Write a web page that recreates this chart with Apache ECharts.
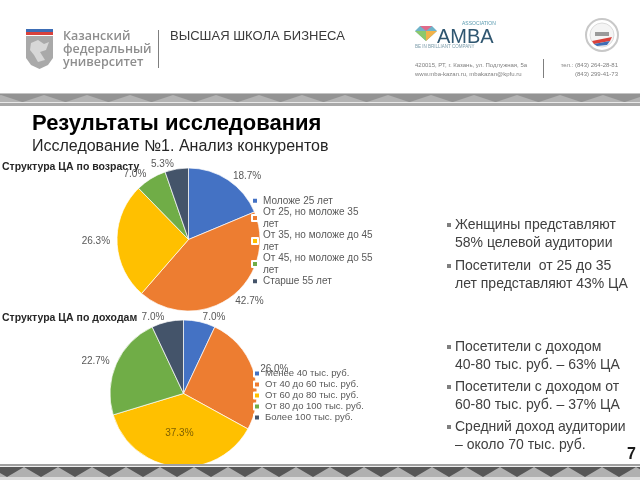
<!DOCTYPE html>
<html><head><meta charset="utf-8">
<script src="https://cdn.jsdelivr.net/npm/echarts@6/dist/echarts.min.js"></script>
<style>html,body{margin:0;padding:0;background:#fff}#c{width:640px;height:480px}</style>
</head><body><div id="c"></div>
<script>
// ---- data ----
const ageCategories = ['Моложе 25 лет', 'От 25, но моложе 35 лет', 'От 35, но моложе до 45 лет', 'От 45, но моложе до 55 лет', 'Старше 55 лет'];
const ageValues = [18.7, 42.7, 26.3, 7.0, 5.3];
const incomeCategories = ['Менее 40 тыс. руб.', 'От 40 до 60 тыс. руб.', 'От 60 до 80 тыс. руб.', 'От 80 до 100 тыс. руб.', 'Более 100 тыс. руб.'];
const incomeValues = [7.0, 26.0, 37.3, 22.7, 7.0];
const incomeInsideLabelIndex = 2;
const sliceColors = ['#4472C4', '#ED7D31', '#FFC000', '#70AD47', '#44546A'];

const slideTitle = 'Результаты исследования';
const slideSubtitle = 'Исследование №1. Анализ конкурентов';
const ageChartTitle = 'Структура ЦА по возрасту';
const incomeChartTitle = 'Структура ЦА по доходам';
const bullets = [
  'Женщины представляют\n58% целевой аудитории',
  'Посетители  от 25 до 35\nлет представляют 43% ЦА',
  'Посетители с доходом\n40-80 тыс. руб. – 63% ЦА',
  'Посетители с доходом от\n60-80 тыс. руб. – 37% ЦА',
  'Средний доход аудитории\n– около 70 тыс. руб.'
];
const pageNumber = '7';

// ---- layout ----
const FF = '"Liberation Sans", Arial, sans-serif';
const bulletTops = [216, 257, 338, 378, 418];

const g = [];
// header: KFU logo
g.push({type:'rect', shape:{x:26,y:29,width:27,height:3}, style:{fill:'#3d6db5'}});
g.push({type:'rect', shape:{x:26,y:32,width:27,height:3}, style:{fill:'#d9413b'}});
g.push({type:'polygon', shape:{points:[[26,36],[53,36],[53,58],[48,65],[39.5,69],[31,65],[26,58]]}, style:{fill:'#a9a9a9'}});
g.push({type:'polygon', shape:{points:[[31,43],[38,40],[44,44],[49,42],[46,50],[40,52],[45,60],[38,62],[34,55],[30,50]]}, style:{fill:'#d7d7d7'}});
const kfuFont = '600 12.5px "Open Sans", sans-serif';
g.push({type:'text', x:63, y:36, style:{text:'Казанский', font:kfuFont, fill:'#8e8e8e', verticalAlign:'middle'}});
g.push({type:'text', x:63, y:49, style:{text:'федеральный', font:kfuFont, fill:'#8e8e8e', verticalAlign:'middle'}});
g.push({type:'text', x:63, y:62, style:{text:'университет', font:kfuFont, fill:'#8e8e8e', verticalAlign:'middle'}});
g.push({type:'rect', shape:{x:158,y:30,width:1,height:38}, style:{fill:'#7f7f7f'}});
g.push({type:'text', x:170, y:36, style:{text:'ВЫСШАЯ ШКОЛА БИЗНЕСА', font:'13px ' + FF, fill:'#3a3a3a', verticalAlign:'middle'}});
// AMBA logo
g.push({type:'polygon', shape:{points:[[415,31],[420,26],[432,26],[437,31],[426,41]]}, style:{fill:'#6fb3c9'}});
g.push({type:'polygon', shape:{points:[[420,26],[426,31],[432,26]]}, style:{fill:'#e06a8a'}});
g.push({type:'polygon', shape:{points:[[415,31],[426,31],[426,41]]}, style:{fill:'#8cc86b'}});
g.push({type:'polygon', shape:{points:[[426,31],[437,31],[426,41]]}, style:{fill:'#f1b24a'}});
g.push({type:'text', x:437, y:37, style:{text:'AMBA', font:'20px ' + FF, fill:'#2f5670', verticalAlign:'middle'}});
g.push({type:'text', x:462, y:24, style:{text:'ASSOCIATION', font:'5px ' + FF, fill:'#5a9bb0', verticalAlign:'middle'}});
g.push({type:'text', x:415, y:47, style:{text:'BE IN BRILLIANT COMPANY', font:'4.5px ' + FF, fill:'#7a9aa8', verticalAlign:'middle'}});
g.push({type:'text', x:415, y:65, style:{text:'420015, РТ, г. Казань, ул. Подлужная, 5а', font:'6px ' + FF, fill:'#7f7f7f', verticalAlign:'middle'}});
g.push({type:'text', x:415, y:74, style:{text:'www.mba-kazan.ru, mbakazan@kpfu.ru', font:'6px ' + FF, fill:'#7f7f7f', verticalAlign:'middle'}});
g.push({type:'rect', shape:{x:543,y:59,width:1,height:19}, style:{fill:'#7f7f7f'}});
g.push({type:'text', x:618, y:65, style:{text:'тел.: (843) 264-28-81', font:'6px ' + FF, fill:'#7f7f7f', align:'right', verticalAlign:'middle'}});
g.push({type:'text', x:618, y:74, style:{text:'(843) 299-41-73', font:'6px ' + FF, fill:'#7f7f7f', align:'right', verticalAlign:'middle'}});
// round logo
g.push({type:'circle', shape:{cx:602,cy:35,r:16}, style:{fill:'#fff', stroke:'#c8c8c8', lineWidth:2}});
g.push({type:'circle', shape:{cx:602,cy:35,r:12}, style:{fill:'#f4f4f4', stroke:'#dcdcdc', lineWidth:1}});
g.push({type:'rect', shape:{x:595,y:32,width:14,height:4}, style:{fill:'#9a9a9a'}});
g.push({type:'polygon', shape:{points:[[592,41],[612,37],[610,41],[594,44]]}, style:{fill:'#d9413b'}});
g.push({type:'polygon', shape:{points:[[594,44],[610,41],[607,45],[597,46]]}, style:{fill:'#3d6db5'}});

// top band
g.push({type:'rect', shape:{x:0,y:93,width:640,height:1}, style:{fill:'#c4c4c4'}});
g.push({type:'rect', shape:{x:0,y:94,width:640,height:8}, style:{fill:'#939393'}});
for (let x = -20; x < 660; x += 43) {
  g.push({type:'polygon', shape:{points:[[x,102],[x+21,95],[x+42,102]]}, style:{fill:'#b3b3b3'}});
}
g.push({type:'rect', shape:{x:0,y:102,width:640,height:1}, style:{fill:'#e8e8e8'}});
g.push({type:'rect', shape:{x:0,y:103,width:640,height:3}, style:{fill:'#a8a8a8'}});

// bottom band (drawn above pies)
g.push({type:'rect', z:100, shape:{x:0,y:464,width:640,height:2}, style:{fill:'#a0a0a0'}});
g.push({type:'rect', z:100, shape:{x:0,y:466,width:640,height:1}, style:{fill:'#f0f0f0'}});
g.push({type:'rect', z:100, shape:{x:0,y:467,width:640,height:10}, style:{fill:'#b0b0b0'}});
for (let x = -10; x < 660; x += 34) {
  g.push({type:'polygon', z:101, shape:{points:[[x,467],[x+34,467],[x+17,477]]}, style:{fill:'#575757'}});
}
g.push({type:'rect', z:100, shape:{x:0,y:477,width:640,height:3}, style:{fill:'#dcdcdc'}});

// titles
g.push({type:'text', x:32, y:124, style:{text:slideTitle, font:'bold 22px ' + FF, fill:'#000', verticalAlign:'middle'}});
g.push({type:'text', x:32, y:147, style:{text:slideSubtitle, font:'16px ' + FF, fill:'#262626', verticalAlign:'middle'}});
g.push({type:'text', x:2, y:167, style:{text:ageChartTitle, font:'bold 10.5px ' + FF, fill:'#262626', verticalAlign:'middle'}});
g.push({type:'text', x:2, y:318, style:{text:incomeChartTitle, font:'bold 10.5px ' + FF, fill:'#262626', verticalAlign:'middle'}});

// bullets
bullets.forEach((t, i) => {
  g.push({type:'rect', shape:{x:447,y:bulletTops[i]+7,width:4,height:4}, style:{fill:'#7f7f7f'}});
  g.push({type:'text', x:455, y:bulletTops[i], style:{text:t, font:'14px ' + FF, fill:'#404040', lineHeight:18, verticalAlign:'top'}});
});
g.push({type:'text', x:636, y:455, style:{text:pageNumber, font:'bold 16px ' + FF, fill:'#1a1a1a', align:'right', verticalAlign:'middle'}});

const pct = p => p.value.toFixed(1) + '%';
const baseLabel = {show:true, position:'outside', formatter:pct, fontSize:10, fontFamily:FF, color:'#595959', distanceToLabelLine:2};
const wrapLegend = name => name.length > 16 ? name.replace(/ лет$/, '\nлет') : name;

const chart = echarts.init(document.getElementById('c'), null, {renderer:'canvas'});
chart.setOption({
  animation:false,
  backgroundColor:'#fff',
  color:sliceColors,
  legend:[
    {data:ageCategories, orient:'vertical', left:251, top:195, itemWidth:6, itemHeight:6, itemGap:0, icon:'rect', padding:0, selectedMode:false,
     formatter:wrapLegend,
     textStyle:{fontSize:10, fontFamily:FF, color:'#595959', lineHeight:11.5}},
    {data:incomeCategories, orient:'vertical', left:253, top:368, itemWidth:6, itemHeight:6, itemGap:0, icon:'rect', padding:0, selectedMode:false,
     textStyle:{fontSize:9.5, fontFamily:FF, color:'#595959', lineHeight:11}}
  ],
  series:[
    {type:'pie', center:[188.5,239.5], radius:[0,71.5], startAngle:90, clockwise:true, avoidLabelOverlap:false,
     silent:true, itemStyle:{borderColor:'#fff', borderWidth:0.7},
     label:baseLabel, labelLine:{show:false, length:5, length2:0},
     data:ageCategories.map((n, i) => ({name:n, value:ageValues[i]}))},
    {type:'pie', center:[183.5,393.5], radius:[0,73.5], startAngle:90, clockwise:true, avoidLabelOverlap:false,
     silent:true, itemStyle:{borderColor:'#fff', borderWidth:0.7},
     label:baseLabel, labelLine:{show:false, length:5, length2:0},
     data:incomeCategories.map((n, i) => i === incomeInsideLabelIndex
        ? {name:n, value:incomeValues[i], label:{position:'inside', color:'#7f6000', fontSize:10}}
        : {name:n, value:incomeValues[i]})}
  ],
  graphic:{elements:g}
});
</script></body></html>
